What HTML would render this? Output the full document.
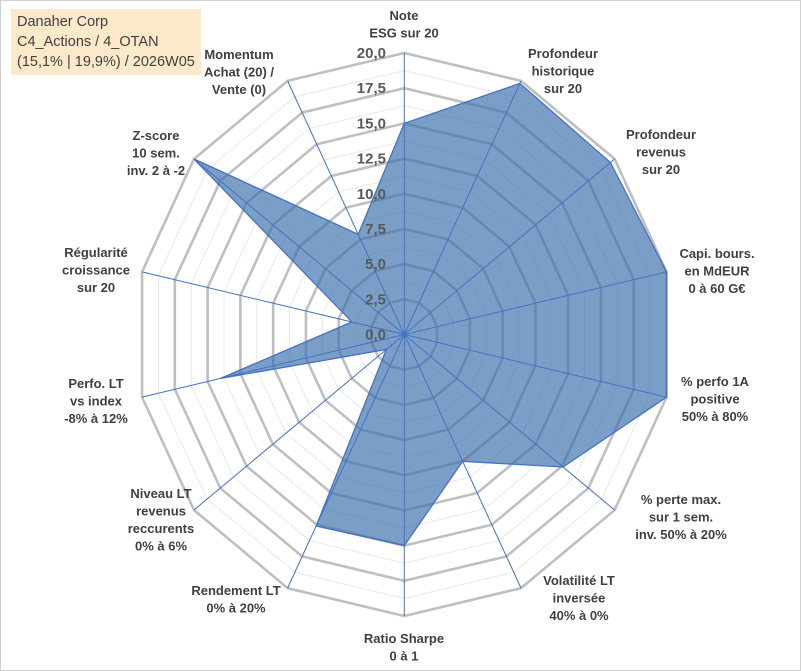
<!DOCTYPE html>
<html><head><meta charset="utf-8"><style>
body{margin:0;background:#fff;}
#wrap{position:relative;width:801px;height:671px;overflow:hidden;border:1px solid #d0d0d0;box-sizing:border-box;}
svg text{font-family:"Liberation Sans",Arial,sans-serif;font-weight:bold;fill:#404040;}
#title{position:absolute;left:10px;top:8px;width:190px;height:66px;background:#fce9c9;font-family:"Liberation Sans",sans-serif;font-size:14.5px;color:#404040;line-height:20px;padding:3px 0 0 6px;box-sizing:border-box;}
</style></head><body>
<div id="wrap">
<svg id="chart" width="801" height="671"></svg>
<div id="title">Danaher Corp<br>C4_Actions / 4_OTAN<br>(15,1% | 19,9%) / 2026W05</div>
</div>
<script>
const categories=[["Note","ESG sur 20"],["Profondeur","historique","sur 20"],["Profondeur","revenus","sur 20"],["Capi. bours.","en MdEUR","0 à 60 G€"],["% perfo 1A","positive","50% à 80%"],["% perte max.","sur 1 sem.","inv. 50% à 20%"],["Volatilité LT","inversée","40% à 0%"],["Ratio Sharpe","0 à 1"],["Rendement LT","0% à 20%"],["Niveau LT","revenus","reccurents","0% à 6%"],["Perfo. LT","vs index","-8% à 12%"],["Régularité","croissance","sur 20"],["Z-score","10 sem.","inv. 2 à -2"],["Momentum","Achat (20) /","Vente (0)"]];
const values=[15,19.8,19.6,20,20,15.1,10,15,15.1,1.7,14,4,20,7.9];
const tickLabels=["0,0","2,5","5,0","7,5","10,0","12,5","15,0","17,5","20,0"];
const maxVal=20;
const NS="http://www.w3.org/2000/svg";
const svg=document.getElementById('chart');
const cx=403.3,cy=333.5,ry=281.5,rx=269;
const N=categories.length;
function pt(i,v){const a=2*Math.PI*i/N;const r=v/maxVal;return [cx+rx*r*Math.sin(a),cy-ry*r*Math.cos(a)];}
function el(t,attrs){const e=document.createElementNS(NS,t);for(const k in attrs)e.setAttribute(k,attrs[k]);svg.appendChild(e);return e;}
// minor grid
for(let k=1;k<=16;k++){const v=k*1.25;const pts=[];for(let i=0;i<N;i++)pts.push(pt(i,v).join(','));
const g=el('polygon',{points:pts.join(' '),fill:'none',stroke:k%2?'#e8e8e8':'#bfbfbf','stroke-width':k%2?1:2.6});

}
// series
const sp=values.map((v,i)=>pt(i,v).join(','));
const area=el('polygon',{points:sp.join(' '),fill:'rgba(60,112,172,0.68)',stroke:'#4472c4','stroke-width':1.3});


// spokes
for(let i=0;i<N;i++){const p=pt(i,maxVal);const s=el('line',{x1:cx,y1:cy,x2:p[0],y2:p[1],stroke:'#4472c4','stroke-width':1});

}
// ticks
tickLabels.forEach((t,k)=>{const y=cy-ry*(k*2.5)/maxVal;const tx=el('text',{x:385,y:y+5,'text-anchor':'end','font-size':15,style:'fill:#595959'});tx.textContent=t;

});
// category labels
const labelPos=[[403,14],[562,52],[660,133],[716,252],[714,380],[680,498],[578,579],[403,637],[235,589],[160,492],[95,382],[95,251],[155,134],[238,53]];
categories.forEach((lines,i)=>{const [x,y]=labelPos[i];const t=el('text',{x:x,y:y+5,'text-anchor':'middle','font-size':13});


lines.forEach((l,j)=>{const ts=document.createElementNS(NS,'tspan');ts.setAttribute('x',x);ts.setAttribute('dy',j?17.5:0);ts.textContent=l;t.appendChild(ts);});});
</script>
</body></html>
